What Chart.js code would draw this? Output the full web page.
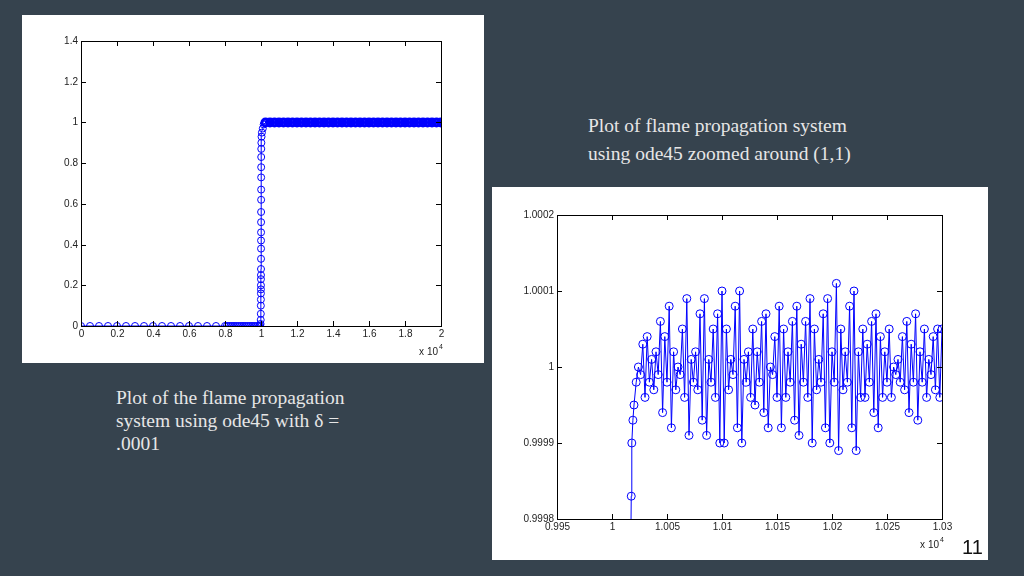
<!DOCTYPE html>
<html><head><meta charset="utf-8">
<script src="https://cdn.jsdelivr.net/npm/chart.js@4/dist/chart.umd.min.js"></script>
<style>
body{margin:0;width:1024px;height:576px;background:#36434e;position:relative;overflow:hidden;font-family:"Liberation Serif",serif}
.box{position:absolute;background:#fff}
.t{position:absolute;color:#e6e6e6;font-size:19.5px}
#pg{position:absolute;left:962px;top:536px;font:20px "Liberation Sans",sans-serif;color:#111}
</style></head><body>
<div class="box" style="left:22px;top:15px;width:462px;height:348px"><canvas id="c1" width="462" height="348"></canvas></div>
<div class="box" style="left:492px;top:187px;width:496px;height:373px"><canvas id="c2" width="496" height="373"></canvas></div>
<div class="t" style="left:588px;top:112px;line-height:28px">Plot of flame propagation system<br>using ode45 zoomed around (1,1)</div>
<div class="t" style="left:116px;top:386px;line-height:23px">Plot of the flame propagation<br>system using ode45 with δ =<br>.0001</div>
<div id="pg">11</div>
<script>
// Left chart data
const leftX = [0,500,1000,1500,2000,2500,3000,3500,4000,4500,5000,5500,6000,6500,7000,7500,8000,
 8100,8200,8300,8400,8500,8600,8700,8800,8900,9000,9100,9200,9300,9400,9500,9600,9700,9800,9900,9950,
 9975,9985,9990,9992,9994,9995,9996,9997,9998,9999,10000,10001,10002,10003,10004,10005,10006,10007,10008,10009,10010,10012,10015,10020,10030,
 10050,10100,10150,10250,10500,10750,11000,11250,11500,11750,12000,12250,12500,12750,13000,13250,13500,13750,14000,14250,14500,14750,15000,15250,15500,15750,16000,16250,16500,16750,17000,17250,17500,17750,18000,18250,18500,18750,19000,19250,19500,19750,20000];
const leftY = [0,0,0,0,0,0,0,0,0,0,0,0,0,0,0,0,0,
 0,0,0,0,0,0,0,0,0,0,0,0,0,0,0,0,0,0,0,0.002,
 0.01,0.03,0.06,0.1,0.13,0.16,0.18,0.2,0.23,0.25,0.28,0.33,0.38,0.42,0.46,0.51,0.56,0.62,0.67,0.73,0.78,0.83,0.87,0.9,0.93,0.95,
 0.97,0.99,1,1,1,1,1,1,1,1,1,1,1,1,1,1,1,1,1,1,1,1,1,1,1,1,1,1,1,1,1,1,1,1,1,1,1,1,1,1,1,1];
const leftXTicks = [0,2000,4000,6000,8000,10000,12000,14000,16000,18000,20000];
const leftXLabels = ["0","0.2","0.4","0.6","0.8","1","1.2","1.4","1.6","1.8","2"];
const leftYTicks = [0,0.2,0.4,0.6,0.8,1,1.2,1.4];
const leftYLabels = ["0","0.2","0.4","0.6","0.8","1","1.2","1.4"];

// Right chart data
const rightX = [10017,10017.5,10018,10019,10020,10022,
 10024,10026,10028,10030,10032,10034,10036,10038,10040,10042,10044,10046,10048,10050,10052,10054,10056,10058,10060,10062,10064,10066,10068,10070,10072,10074,10076,10078,10080,10082,10084,10086,10088,10090,10092,10094,10096,10098,10100,10102,10104,10106,10108,10110,10112,10114,10116,10118,10120,10122,10124,10126,10128,10130,10132,10134,10136,10138,10140,10142,10144,10146,10148,10150,10152,10154,10156,10158,10160,10162,10164,10166,10168,10170,10172,10174,10176,10178,10180,10182,10184,10186,10188,10190,10192,10194,10196,10198,10200,10202,10204,10206,10208,10210,10212,10214,10216,10218,10220,10222,10224,10226,10228,10230,10232,10234,10236,10238,10240,10242,10244,10246,10248,10250,10252,10254,10256,10258,10260,10262,10264,10266,10268,10270,10272,10274,10276,10278,10280,10282,10284,10286,10288,10290,10292,10294,10296,10298,10300];
const rightY = [0.99975,0.99983,0.99990,0.99993,0.99995,0.99998,
 1.00000,0.99999,1.00003,0.99996,1.00004,0.99998,1.00001,0.99997,1.00002,0.99999,
 1.00006,0.99994,1.00004,0.99998,1.00008,0.99992,1.00002,0.99997,1.00000,0.99999,
 1.00005,0.99996,1.00009,0.99991,1.00001,0.99998,1.00002,0.99997,1.00007,0.99993,
 1.00009,0.99991,1.00001,0.99998,1.00005,0.99996,1.00007,0.99990,1.00010,0.99990,
 1.00005,0.99997,1.00001,0.99999,1.00008,0.99992,1.00010,0.99990,1.00001,0.99998,
 1.00002,0.99996,1.00005,0.99995,1.00002,0.99998,1.00006,0.99994,1.00007,0.99992,
 1.00000,0.99999,1.00004,0.99996,1.00008,0.99992,1.00005,0.99996,1.00002,0.99998,
 1.00006,0.99993,1.00008,0.99991,1.00003,0.99998,1.00006,0.99996,1.00009,0.99990,
 1.00005,0.99997,1.00001,0.99998,1.00007,0.99992,1.00009,0.99990,1.00002,0.99998,
 1.00011,0.99989,1.00005,0.99997,1.00002,0.99998,1.00008,0.99992,1.00010,0.99989,
 1.00002,0.99996,1.00005,0.99996,1.00003,0.99998,1.00006,0.99994,1.00007,0.99992,
 1.00004,0.99996,1.00002,0.99998,1.00005,0.99996,1.00000,0.99999,
 1.00001,0.99998,1.00004,0.99997,1.00006,0.99994,1.00003,0.99998,1.00007,0.99993,
 1.00002,0.99998,1.00005,0.99996,1.00001,0.99999,1.00004,0.99997,1.00005,0.99996,
 1.00005];
const rightXTicks = [9950,10000,10050,10100,10150,10200,10250,10300];
const rightXLabels = ["0.995","1","1.005","1.01","1.015","1.02","1.025","1.03"];
const rightYTicks = [0.9998,0.9999,1,1.0001,1.0002];
const rightYLabels = ["0.9998","0.9999","1","1.0001","1.0002"];

function axesPlugin(xt,xl,yt,yl){
 return {id:'mat',afterDraw(ch){
  const c=ch.ctx,a=ch.chartArea,xs=ch.scales.x,ys=ch.scales.y;
  c.save();c.strokeStyle='#000';c.lineWidth=1;
  c.strokeRect(a.left+0.5,a.top+0.5,a.right-a.left,a.bottom-a.top);
  c.fillStyle='#222';c.font='10px "Liberation Sans",Arial,sans-serif';
  c.textAlign='center';c.textBaseline='top';
  xt.forEach((v,i)=>{const p=Math.round(xs.getPixelForValue(v))+0.5;
   c.beginPath();c.moveTo(p,a.bottom);c.lineTo(p,a.bottom-5);c.moveTo(p,a.top);c.lineTo(p,a.top+5);c.stroke();
   c.fillText(xl[i],p,a.bottom+3);});
  c.textAlign='right';c.textBaseline='middle';
  yt.forEach((v,i)=>{const p=Math.round(ys.getPixelForValue(v))+0.5;
   c.beginPath();c.moveTo(a.left,p);c.lineTo(a.left+5,p);c.moveTo(a.right,p);c.lineTo(a.right-5,p);c.stroke();
   c.fillText(yl[i],a.left-3,p);});
  c.textAlign='right';c.textBaseline='alphabetic';
  c.fillText('x 10',a.right-3,a.bottom+29);
  c.font='7px "Liberation Sans",Arial,sans-serif';c.textAlign='left';
  c.fillText('4',a.right-2,a.bottom+23);
  c.restore();}};
}
function mk(id,xs,ys,xmin,xmax,ymin,ymax,pad,r,pbw,plug){
 new Chart(document.getElementById(id),{type:'scatter',
  data:{datasets:[{data:xs.map((x,i)=>({x:x,y:ys[i]})),showLine:true,borderColor:'#0000ff',
   backgroundColor:'rgba(0,0,0,0)',borderWidth:1,pointRadius:r,pointBorderWidth:pbw,pointBorderColor:'#0000ff',clip:0}]},
  options:{responsive:false,animation:false,layout:{padding:pad},
   plugins:{legend:{display:false},tooltip:{enabled:false}},
   scales:{x:{type:'linear',min:xmin,max:xmax,display:false},y:{type:'linear',min:ymin,max:ymax,display:false}}},
  plugins:[plug]});
}
mk('c1',leftX,leftY,0,20000,0,1.4,{left:59,top:26,right:43,bottom:37},3.5,
 ctx=>(ctx.raw&&ctx.raw.y===1)?3:1,axesPlugin(leftXTicks,leftXLabels,leftYTicks,leftYLabels));
mk('c2',rightX,rightY,9950,10300,0.9998,1.0002,{left:65,top:28,right:46,bottom:41},4,1,axesPlugin(rightXTicks,rightXLabels,rightYTicks,rightYLabels));
</script></body></html>
